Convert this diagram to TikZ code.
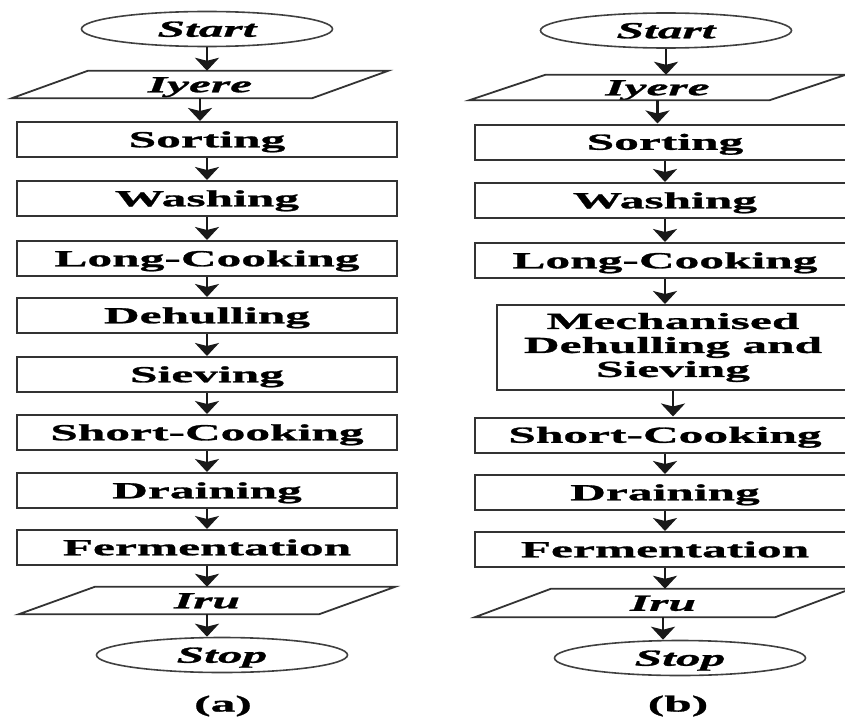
\documentclass[tikz,border=0pt]{standalone}
\usepackage{fontspec}
\usetikzlibrary{shapes.geometric,arrows.meta}
\newfontfamily\flowfont{Liberation Serif}[FakeStretch=2.15, BoldFeatures={FakeBold=1.2}, BoldItalicFeatures={FakeBold=1.2}]
\def\flowsize{\flowfont\fontsize{23}{24}\selectfont\bfseries}
\tikzset{
	stepbox/.style={draw=black!80, line width=2pt, minimum width=380pt, minimum height=35pt, inner sep=0pt, text height=15.5pt, text depth=0pt, font=\flowsize},
	termnode/.style={ellipse, draw=black!75, line width=1.6pt, minimum width=251pt, minimum height=35pt, inner sep=0pt, text height=15.5pt, text depth=0pt, font=\flowsize\itshape},
	ionode/.style={minimum width=300pt, minimum height=27pt, inner sep=0pt, text height=15.5pt, text depth=0pt, font=\flowsize\itshape},
	slant/.style={draw=black!80, line width=1.8pt},
	flow/.style={-{Stealth[length=13pt,width=24pt,inset=3pt]}, line width=2.4pt, black!90},
	caption/.style={font=\flowsize}
}

\begin{document}
\begin{tikzpicture}[x=1pt, y=-1pt]
			%%%%% START %%%%%
			\useasboundingbox (0,0) rectangle (845,717);
			\clip (0,0) rectangle (845,717);
			
			% (a)
			\node[termnode] (startA) at (207, 29) {Start};
			\node[ionode] (iyereA) at (200, 84.5) {Iyere};
			\node[stepbox] (sortA) at (207, 139.5) {Sorting};
			\node[stepbox] (washA) at (207, 198.5) {Washing};
			\node[stepbox] (longA) at (207, 258.5) {Long-Cooking};
			\node[stepbox] (dehullA) at (207, 315.5) {Dehulling};
			\node[stepbox] (sieveA) at (207, 374.5) {Sieving};
			\node[stepbox] (shortA) at (207, 432.5) {Short-Cooking};
			\node[stepbox] (drainA) at (207, 490.5) {Draining};
			\node[stepbox] (fermA) at (207, 547.5) {Fermentation};
			\node[ionode] (iruA) at (207, 600.5) {Iru};
			\node[termnode] (stopA) at (222, 655) {Stop};
			\node[caption] (capA) at (223, 706) {(a)};
			
			% (b)
			\node[termnode] (startB) at (666, 30.5) {Start};
			\node[ionode, minimum height=25pt] (iyereB) at (657.5, 87.5) {Iyere};
			\node[stepbox] (sortB) at (665, 142) {Sorting};
			\node[stepbox] (washB) at (665, 200.5) {Washing};
			\node[stepbox] (longB) at (665, 260.5) {Long-Cooking};
			\node[stepbox, minimum width=352pt, minimum height=85pt, text height=, text depth=, align=center] (mechB) at (673, 347.5) {Mechanised\\Dehulling and\\Sieving};
			\node[stepbox] (shortB) at (665, 435) {Short-Cooking};
			\node[stepbox] (drainB) at (665, 492.5) {Draining};
			\node[stepbox] (fermB) at (665, 549.5) {Fermentation};
			\node[ionode, minimum height=28pt] (iruB) at (663, 603) {Iru};
			\node[termnode] (stopB) at (680, 658) {Stop};
			\node[caption] (capB) at (678, 706) {(b)};
			
			% input / output shapes
			\foreach \n in {iyereA, iruA, iyereB, iruB}
				\draw[slant] ([xshift=38pt]\n.north west) -- ([xshift=38pt]\n.north east) -- ([xshift=-38pt]\n.south east) -- ([xshift=-38pt]\n.south west) -- cycle;
			
			% arrows
			\foreach \a/\b in {startA/iyereA, iyereA/sortA, sortA/washA, washA/longA, longA/dehullA, dehullA/sieveA, sieveA/shortA, shortA/drainA, drainA/fermA, fermA/iruA, iruA/stopA,
				startB/iyereB, iyereB/sortB, sortB/washB, washB/longB, longB/mechB, mechB/shortB, shortB/drainB, drainB/fermB, fermB/iruB, iruB/stopB}
				\draw[flow] (\a.south) -- (\a.south |- \b.north);
			
			%%%%% END %%%%%
		\end{tikzpicture}
\end{document}
